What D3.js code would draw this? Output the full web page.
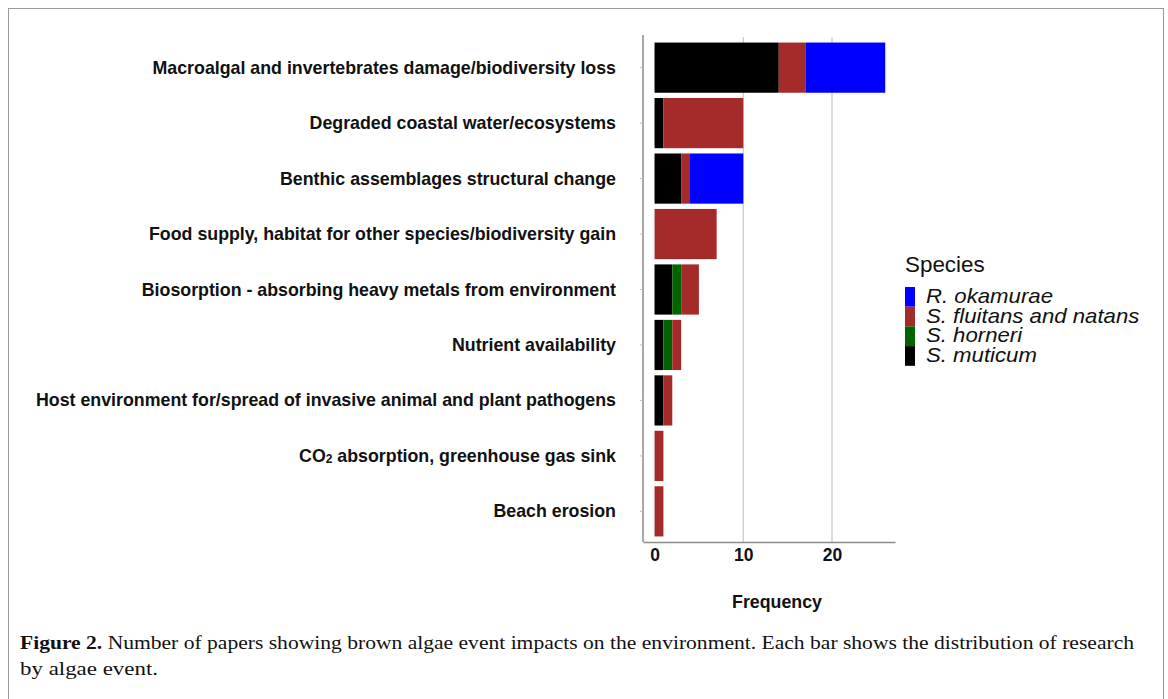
<!DOCTYPE html>
<html>
<head>
<meta charset="utf-8">
<script src="https://cdn.jsdelivr.net/npm/d3@7"></script>
<style>
  body { margin: 0; background: #fff; }
</style>
</head>
<body>
<div id="chart"></div>
<script>
// Impact categories, top to bottom
var impacts = [
  "Macroalgal and invertebrates damage/biodiversity loss",
  "Degraded coastal water/ecosystems",
  "Benthic assemblages structural change",
  "Food supply, habitat for other species/biodiversity gain",
  "Biosorption - absorbing heavy metals from environment",
  "Nutrient availability",
  "Host environment for/spread of invasive animal and plant pathogens",
  "CO2 absorption, greenhouse gas sink",
  "Beach erosion"
];

// Number of papers per species, same order as impacts
var muticum  = [14, 1, 3, 0, 2, 1, 1, 0, 0];
var horneri  = [0, 0, 0, 0, 1, 1, 0, 0, 0];
var fluitans = [3, 9, 1, 7, 2, 1, 1, 1, 1];
var okamurae = [9, 0, 6, 0, 0, 0, 0, 0, 0];

var species = ["S. muticum", "S. horneri", "S. fluitans and natans", "R. okamurae"];
var legendOrder = ["R. okamurae", "S. fluitans and natans", "S. horneri", "S. muticum"];
var colors = {
  "R. okamurae": "#0000ff",
  "S. fluitans and natans": "#a52a2a",
  "S. horneri": "#006400",
  "S. muticum": "#000000"
};
var xTicks = [0, 10, 20];

// build rows for the stack
var rows = impacts.map(function(d, i) {
  return {
    impact: d,
    "S. muticum": muticum[i],
    "S. horneri": horneri[i],
    "S. fluitans and natans": fluitans[i],
    "R. okamurae": okamurae[i]
  };
});
var stacked = d3.stack().keys(species)(rows);

var width = 1168, height = 699;
var svg = d3.select("#chart")
  .append("svg")
    .attr("width", width)
    .attr("height", height);

// frame round the figure
svg.append("rect")
  .attr("x", 8.5).attr("y", 8.5)
  .attr("width", 1155).attr("height", 720)
  .attr("fill", "none")
  .attr("stroke", "#9a9a9a")
  .attr("stroke-width", 1);

var plotLeft = 643, plotRight = 895, plotTop = 37, plotBottom = 542;
var labelFont = "Liberation Sans, Arial, sans-serif";

var x = d3.scaleLinear()
  .domain([-1.3, 27.1])
  .range([plotLeft, plotRight]);

var y = d3.scaleBand()
  .domain(impacts)
  .range([plotTop, plotBottom])
  .paddingInner(0.095)
  .paddingOuter(0.1);

// gridlines
svg.append("g")
  .selectAll("line")
  .data(xTicks.filter(function(t) { return t > 0; }))
  .enter()
  .append("line")
  .attr("x1", function(d) { return x(d); })
  .attr("x2", function(d) { return x(d); })
  .attr("y1", plotTop)
  .attr("y2", plotBottom)
  .attr("stroke", "#c8c8c8")
  .attr("stroke-width", 1.2);

// stacked bars
svg.append("g")
  .selectAll("g")
  .data(stacked)
  .enter()
  .append("g")
  .attr("fill", function(d) { return colors[d.key]; })
  .selectAll("rect")
  .data(function(d) { return d; })
  .enter()
  .append("rect")
  .attr("x", function(d) { return x(d[0]); })
  .attr("width", function(d) { return x(d[1]) - x(d[0]); })
  .attr("y", function(d) { return y(d.data.impact); })
  .attr("height", y.bandwidth());

// axes
var xAxis = svg.append("g")
  .attr("transform", "translate(0," + plotBottom + ")")
  .call(d3.axisBottom(x).tickValues(xTicks).tickSize(0).tickPadding(7));
xAxis.select(".domain").attr("stroke", "#8c8c8c").attr("stroke-width", 1.5);
xAxis.selectAll("text")
  .attr("font-family", labelFont)
  .attr("font-weight", "bold")
  .attr("font-size", 17.5)
  .attr("fill", "#111");

var yAxis = svg.append("g")
  .attr("transform", "translate(" + plotLeft + ",0)")
  .call(d3.axisLeft(y).tickSize(3).tickPadding(24).tickFormat(""));
yAxis.select(".domain").attr("stroke", "#8c8c8c").attr("stroke-width", 1.5)
  .attr("d", "M0," + (plotTop - 2) + "V" + plotBottom);
yAxis.selectAll(".tick line").attr("stroke", "#bbb");

// category labels (CO2 needs a subscript)
svg.append("g")
  .selectAll("text")
  .data(impacts)
  .enter()
  .append("text")
  .attr("x", 616)
  .attr("y", function(d) { return y(d) + y.bandwidth() / 2 + 6; })
  .attr("text-anchor", "end")
  .attr("font-family", labelFont)
  .attr("font-weight", "bold")
  .attr("font-size", 17.8)
  .attr("fill", "#111")
  .each(function(d) {
    var t = d3.select(this);
    if (d.indexOf("CO2") === 0) {
      t.append("tspan").text("CO");
      t.append("tspan").attr("font-size", 12).attr("dy", 1).text("2");
      t.append("tspan").attr("dy", -1).text(d.slice(3));
    } else {
      t.text(d);
    }
  });

// x axis title
svg.append("text")
  .attr("x", 777)
  .attr("y", 608)
  .attr("text-anchor", "middle")
  .attr("font-family", labelFont)
  .attr("font-weight", "bold")
  .attr("font-size", 17.8)
  .attr("fill", "#111")
  .text("Frequency");

// legend
var legend = svg.append("g").attr("transform", "translate(905,0)");
legend.append("text")
  .attr("x", 0).attr("y", 272)
  .attr("font-family", labelFont)
  .attr("font-size", 22.4)
  .attr("fill", "#111")
  .text("Species");
legendOrder.forEach(function(s, i) {
  legend.append("rect")
    .attr("x", 0).attr("y", 287 + i * 19.7)
    .attr("width", 10).attr("height", 19.7)
    .attr("fill", colors[s]);
  // glyphs in the reference are a little wide for their height
  legend.append("text")
    .attr("transform", "translate(21," + (303 + i * 19.7) + ") scale(1.11,1)")
    .attr("font-family", labelFont)
    .attr("font-style", "italic")
    .attr("font-size", 20)
    .attr("fill", "#111")
    .text(s);
});

// caption
var cap = svg.append("text")
  .attr("x", 20).attr("y", 649)
  .attr("font-family", "Liberation Serif, serif")
  .attr("font-size", 19)
  .attr("fill", "#111")
  .attr("textLength", 1114)
  .attr("lengthAdjust", "spacingAndGlyphs");
cap.append("tspan").attr("font-weight", "bold").text("Figure 2.");
cap.append("tspan").text(" Number of papers showing brown algae event impacts on the environment. Each bar shows the distribution of research");
svg.append("text")
  .attr("x", 20).attr("y", 675)
  .attr("font-family", "Liberation Serif, serif")
  .attr("font-size", 19)
  .attr("fill", "#111")
  .attr("textLength", 138)
  .attr("lengthAdjust", "spacingAndGlyphs")
  .text("by algae event.");
</script>
</body>
</html>
